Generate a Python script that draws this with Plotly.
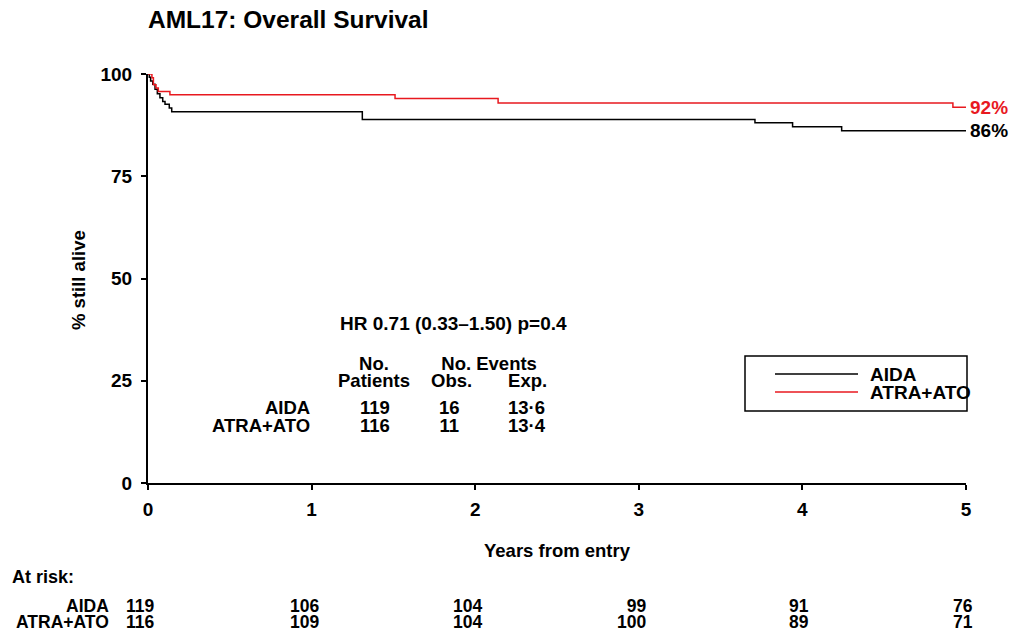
import plotly.graph_objects as go

# ---- data ----
aida_t = [0, 0.008, 0.016, 0.029, 0.043, 0.057, 0.073, 0.090, 0.104, 0.130, 0.145, 1.31, 3.71, 3.94, 4.24, 5.0]
aida_s = [100, 99.2, 98.3, 97.5, 96.3, 95.2, 94.2, 93.3, 92.6, 91.7, 90.8, 88.9, 88.1, 87.1, 86.1, 86.1]
atra_t = [0, 0.024, 0.033, 0.049, 0.063, 0.134, 1.51, 2.14, 4.92, 5.0]
atra_s = [100, 99.1, 97.4, 96.6, 95.7, 94.9, 94.0, 92.9, 91.9, 91.9]

risk_times = [0, 1, 2, 3, 4, 5]
risk_aida = [119, 106, 104, 99, 91, 76]
risk_atra = [116, 109, 104, 100, 89, 71]

groups = ["AIDA", "ATRA+ATO"]
n_patients = [119, 116]
obs_events = [16, 11]
exp_events = ["13·6", "13·4"]
end_labels = ["86%", "92%"]

FONT = "Liberation Sans, Arial, Helvetica, sans-serif"
BLACK = "#000000"
RED = "#e8191f"
FS = 19

W, H = 1013, 639
# plot area in page pixels
L, R, T, B = 148, 966, 74, 483
def px(x):
    return (x - L) / (R - L)
def py(y):
    return (B - y) / (B - T)

fig = go.Figure()
fig.add_trace(go.Scatter(x=aida_t, y=aida_s, mode="lines", line=dict(color=BLACK, width=1.5, shape="hv"),
                         name="AIDA", showlegend=False))
fig.add_trace(go.Scatter(x=atra_t, y=atra_s, mode="lines", line=dict(color=RED, width=1.5, shape="hv"),
                         name="ATRA+ATO", showlegend=False))

ann = []
def A(text, x, y, xref="paper", yref="paper", xanchor="center", yanchor="middle", size=FS, color=BLACK, **kw):
    ann.append(dict(text=text, x=x, y=y, xref=xref, yref=yref, xanchor=xanchor, yanchor=yanchor,
                    showarrow=False, font=dict(family=FONT, size=size, color=color, weight="bold"), **kw))

def ML(lines, x, y, spacing, align="center", xanchor="center", size=FS, **kw):
    """Two-line text block with tight line spacing (line step = 1.3 * base font size)."""
    base = spacing / 1.3
    txt = '<span style="font-size:%gpx">' % size + "<br>".join(lines) + "</span>"
    A(txt, x, y, xanchor=xanchor, size=base, align=align, **kw)

# end percentages
A(end_labels[1], 5, atra_s[-1], xref="x", yref="y", xanchor="left", color=RED, xshift=2)
A(end_labels[0], 5, aida_s[-1], xref="x", yref="y", xanchor="left", color=BLACK, xshift=2)

# HR text and table
A("HR 0.71 (0.33\u20131.50) p=0.4", px(453), py(323))
ML(["No.", "Patients"], px(374), py(371.5), 17, size=18.5)
ML(["No. Events", "Obs." + "\u00a0" * 7 + "Exp."], px(489), py(371.5), 17, size=18.5)
ML(groups, px(312), py(416), 18, align="right", xanchor="right", size=18.5)
ML([str(v) for v in n_patients], px(375), py(416), 18, size=18.5)
ML([str(v) for v in obs_events], px(449), py(416), 18, size=18.5)
ML(exp_events, px(527), py(416), 18, size=18.5)

# axis titles
A("% still alive", px(78), py(280), textangle=-90, size=18.5)
A("Years from entry", px(557), py(550), size=18.5)

# at risk table
A("At risk:", px(10), py(577), xanchor="left", size=18)
ML(groups, px(111), py(614), 16, align="right", xanchor="right", size=17.5)
for t, a, b in zip(risk_times, risk_aida, risk_atra):
    ML([str(a), str(b)], t, py(614), 16, align="right", xanchor="right", xref="x", xshift=9, size=17.5)

# legend (drawn manually)
ML(groups, px(868), py(383), 18, align="left", xanchor="left")
shapes = [
    dict(type="rect", xref="paper", yref="paper", x0=px(745), x1=px(967), y0=py(411), y1=py(356),
         line=dict(color=BLACK, width=1.5), fillcolor="rgba(0,0,0,0)"),
    dict(type="line", xref="paper", yref="paper", x0=px(775), x1=px(858), y0=py(374), y1=py(374),
         line=dict(color=BLACK, width=1.5)),
    dict(type="line", xref="paper", yref="paper", x0=px(775), x1=px(858), y0=py(392), y1=py(392),
         line=dict(color=RED, width=1.5)),
]

fig.update_layout(
    width=W, height=H,
    margin=dict(l=L, r=W - R, t=T, b=H - B, pad=0),
    paper_bgcolor="white", plot_bgcolor="white",
    title=dict(text="AML17: Overall Survival", x=148 / W, xanchor="left", xref="container",
               y=1 - 19 / H, yanchor="middle", yref="container",
               font=dict(family=FONT, size=24.5, color=BLACK, weight="bold")),
    annotations=ann, shapes=shapes, showlegend=False,
    xaxis=dict(range=[0, 5], tickvals=[0, 1, 2, 3, 4, 5], showgrid=False, zeroline=False,
               showline=True, linecolor=BLACK, linewidth=2, ticks="outside", ticklen=5, tickwidth=2,
               tickcolor=BLACK, ticklabelstandoff=3,
               tickfont=dict(family=FONT, size=FS, color=BLACK, weight="bold")),
    yaxis=dict(range=[0, 100], tickvals=[0, 25, 50, 75, 100], showgrid=False, zeroline=False,
               showline=True, linecolor=BLACK, linewidth=2, ticks="outside", ticklen=5, tickwidth=2,
               tickcolor=BLACK, ticklabelstandoff=5,
               tickfont=dict(family=FONT, size=FS, color=BLACK, weight="bold")),
)

fig.write_html("out.html", config={"displayModeBar": False},
               post_script="document.body.style.margin='0';document.body.style.overflow='hidden';")
